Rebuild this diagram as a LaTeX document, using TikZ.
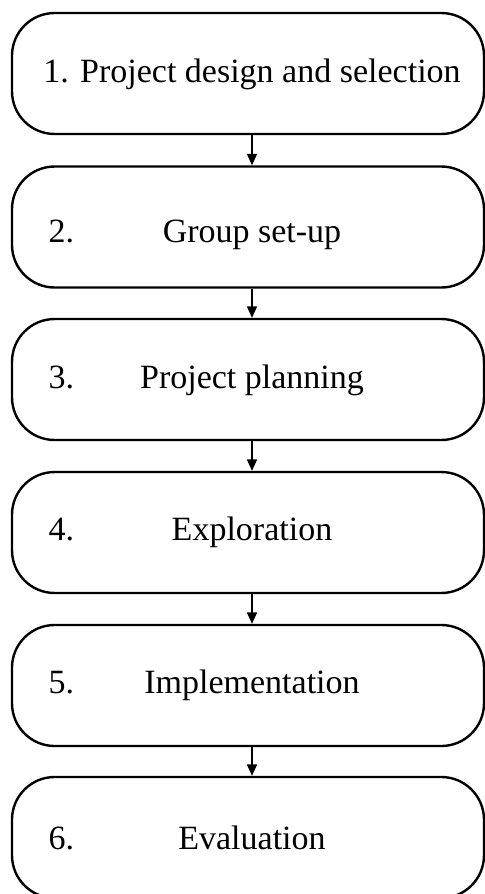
\documentclass[tikz,border=0pt]{standalone}
\usepackage{fontspec}
\setmainfont{Liberation Serif}
\usetikzlibrary{arrows.meta}

\tikzset{every picture/.style={line width=0.75pt}}
\tikzset{
  stagebox/.style={draw, line width=1.8pt, rounded corners=32pt,
    minimum width=354pt, minimum height=90.75pt, inner sep=0pt},
  stagetext/.style={anchor=base, inner sep=0.75pt, font=\fontsize{25.5}{30}\selectfont},
  stagenum/.style={anchor=base west, inner sep=0.75pt, font=\fontsize{25.5}{30}\selectfont},
  flow/.style={line width=1pt, -{Triangle[length=8.5pt,width=7.5pt]}}
}

\begin{document}
\begin{tikzpicture}[x=0.75pt,y=0.75pt,yscale=-1,xscale=1]
\useasboundingbox (0,0) rectangle (485,894);

%Shape: Rounded Rect
\node [stagebox] (s1) at (248,73.5) {};
%Shape: Rounded Rect
\node [stagebox] (s2) at (248,227) {};
%Shape: Rounded Rect
\node [stagebox] (s3) at (248,379.5) {};
%Shape: Rounded Rect
\node [stagebox] (s4) at (248,532.5) {};
%Shape: Rounded Rect
\node [stagebox] (s5) at (248,685.5) {};
%Shape: Rounded Rect
\node [stagebox] (s6) at (248,837.5) {};

%Straight Lines
\draw [flow] ([xshift=3pt]s1.south) -- ([xshift=3pt]s2.north);
%Straight Lines
\draw [flow] ([xshift=3pt]s2.south) -- ([xshift=3pt]s3.north);
%Straight Lines
\draw [flow] ([xshift=3pt]s3.south) -- ([xshift=3pt]s4.north);
%Straight Lines
\draw [flow] ([xshift=3pt]s4.south) -- ([xshift=3pt]s5.north);
%Straight Lines
\draw [flow] ([xshift=3pt]s5.south) -- ([xshift=3pt]s6.north);

% Text Node
\node [stagetext] (t1) at (252,82) {1. Project design and selection};
% Text Node
\node [stagenum] (n2) at (47,242) {2.};
\node [stagetext] (t2) at (252,242) {Group set-up};
% Text Node
\node [stagenum] (n3) at (47,388) {3.};
\node [stagetext] (t3) at (252,388) {Project planning};
% Text Node
\node [stagenum] (n4) at (47,540) {4.};
\node [stagetext] (t4) at (252,540) {Exploration};
% Text Node
\node [stagenum] (n5) at (47,693) {5.};
\node [stagetext] (t5) at (252,693) {Implementation};
% Text Node
\node [stagenum] (n6) at (47,849) {6.};
\node [stagetext] (t6) at (252,849) {Evaluation};

\end{tikzpicture}
\end{document}
